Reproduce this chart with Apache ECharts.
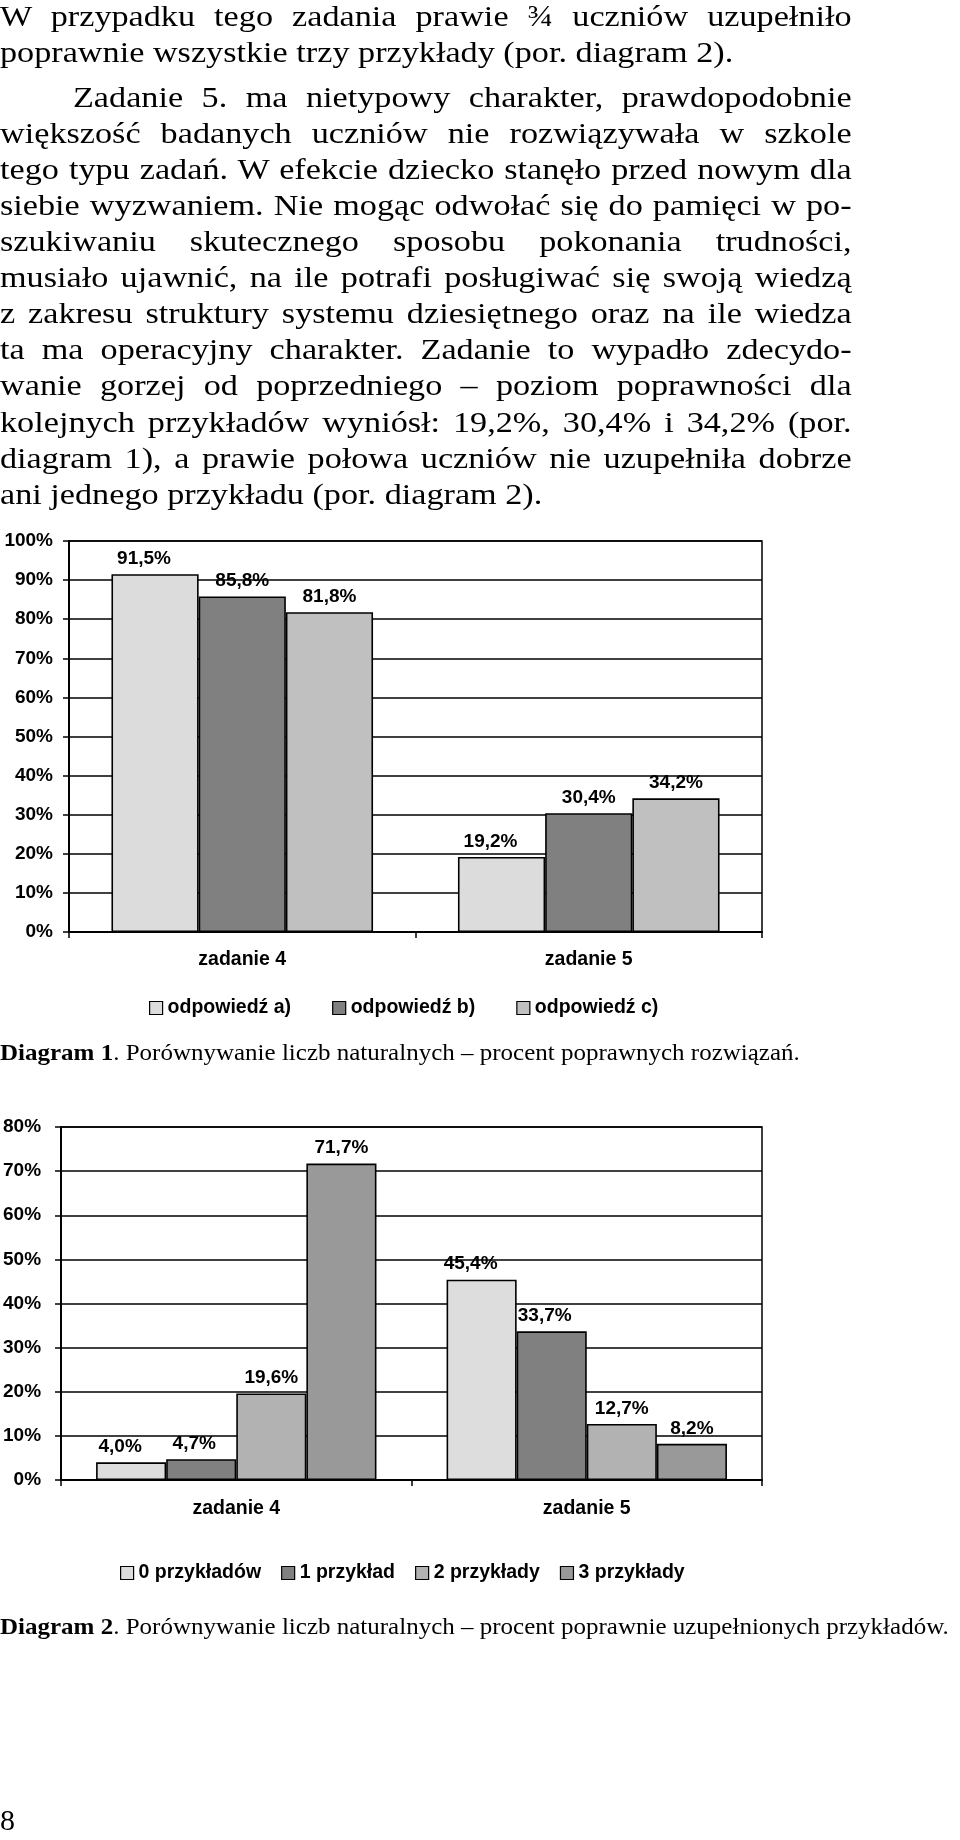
<!DOCTYPE html>
<html><head><meta charset="utf-8">
<script src="https://cdn.jsdelivr.net/npm/echarts@6/dist/echarts.min.js"></script>
<style>
html,body{margin:0;padding:0;background:#fff;}
#page{position:relative;width:960px;height:1840px;overflow:hidden;background:#fff;}
#chart{position:absolute;left:0;top:0;width:960px;height:1840px;}
.txt{position:absolute;left:0;font-family:"Liberation Serif","Times New Roman",serif;color:#000;transform-origin:0 0;}
.body{top:-2px;width:747px;font-size:30px;line-height:36.1px;transform:scaleX(1.14);}
.ln{display:block;width:747px;white-space:nowrap;text-align:justify;text-align-last:justify;}
.ln.last{text-align-last:left;}
.ind{text-indent:64px;}
.gap{height:8.5px;}
.cap{font-size:23px;line-height:30px;white-space:nowrap;transform:scaleX(1.087);}
.num{font-size:30px;line-height:36px;}
</style>
</head><body>
<div id="page">
<div id="chart"></div>
<div class="txt body">
<div class="ln">W przypadku tego zadania prawie ¾ uczniów uzupełniło</div>
<div class="ln last">poprawnie wszystkie trzy przykłady (por. diagram 2).</div>
<div class="gap"></div>
<div class="ln ind">Zadanie 5. ma nietypowy charakter, prawdopodobnie</div>
<div class="ln">większość badanych uczniów nie rozwiązywała w szkole</div>
<div class="ln">tego typu zadań. W efekcie dziecko stanęło przed nowym dla</div>
<div class="ln">siebie wyzwaniem. Nie mogąc odwołać się do pamięci w po-</div>
<div class="ln">szukiwaniu skutecznego sposobu pokonania trudności,</div>
<div class="ln">musiało ujawnić, na ile potrafi posługiwać się swoją wiedzą</div>
<div class="ln">z zakresu struktury systemu dziesiętnego oraz na ile wiedza</div>
<div class="ln">ta ma operacyjny charakter. Zadanie to wypadło zdecydo-</div>
<div class="ln">wanie gorzej od poprzedniego – poziom poprawności dla</div>
<div class="ln">kolejnych przykładów wyniósł: 19,2%, 30,4% i 34,2% (por.</div>
<div class="ln">diagram 1), a prawie połowa uczniów nie uzupełniła dobrze</div>
<div class="ln last">ani jednego przykładu (por. diagram 2).</div>
</div>
<div class="txt cap" style="top:1038px;"><b>Diagram 1</b>. Porównywanie liczb naturalnych – procent poprawnych rozwiązań.</div>
<div class="txt cap" style="top:1612px;"><b>Diagram 2</b>. Porównywanie liczb naturalnych – procent poprawnie uzupełnionych przykładów.</div>
<div class="txt num" style="top:1802px;">8</div>
</div>
<script>
// ---- data ----
const categories = ['zadanie 4', 'zadanie 5'];

const d1Names = ['odpowiedź a)', 'odpowiedź b)', 'odpowiedź c)'];
const d1OdpA = [91.5, 19.2];
const d1OdpB = [85.8, 30.4];
const d1OdpC = [81.8, 34.2];

const d2Names = ['0 przykładów', '1 przykład', '2 przykłady', '3 przykłady'];
const d2Zero = [4.0, 45.4];
const d2One = [4.7, 33.7];
const d2Two = [19.6, 12.7];
const d2Three = [71.7, 8.2];

const d1Max = 100;
const d2Max = 80;
const tickStep = 10;

// ---- styles ----
const FONT = '"Liberation Sans", Arial, sans-serif';
const d1Colors = ['#dcdcdc', '#808080', '#c0c0c0'];
const d2Colors = ['#dddddd', '#808080', '#b2b2b2', '#999999'];

const pct = v => v.toFixed(1).replace('.', ',') + '%';

function bar(name, data, color, idx, gap, dx) {
  return {
    type: 'bar', name: name, data: data,
    xAxisIndex: idx, yAxisIndex: idx,
    barGap: '0%', barCategoryGap: gap,
    itemStyle: {color: color, borderColor: '#000', borderWidth: 1.6},
    label: {
      show: true, position: 'top', distance: 6, offset: [dx, 0],
      formatter: p => pct(p.value),
      color: '#000', fontWeight: 'bold', fontSize: 19, fontFamily: FONT
    },
    emphasis: {disabled: true},
    animation: false
  };
}

function xAxis(idx, margin) {
  return {
    type: 'category', gridIndex: idx, data: categories,
    axisLine: {show: true, lineStyle: {color: '#000', width: 2}},
    axisTick: {show: true, length: 6, interval: 0, lineStyle: {color: '#000', width: 1.5}},
    axisLabel: {color: '#000', fontWeight: 'bold', fontSize: 19.5, fontFamily: FONT, margin: margin},
    splitLine: {show: false}
  };
}
function yAxis(idx, max, margin) {
  return {
    type: 'value', gridIndex: idx, min: 0, max: max, interval: tickStep,
    axisLine: {show: true, lineStyle: {color: '#000', width: 2}},
    axisTick: {show: true, length: 6, lineStyle: {color: '#000', width: 1.5}},
    axisLabel: {color: '#000', fontWeight: 'bold', fontSize: 19, fontFamily: FONT, margin: margin,
      formatter: v => v + '%'},
    splitLine: {show: true, lineStyle: {color: '#000', width: 1.5}}
  };
}

const chart = echarts.init(document.getElementById('chart'), null, {renderer: 'canvas'});
chart.setOption({
  animation: false,
  backgroundColor: 'transparent',
  textStyle: {fontFamily: FONT},
  grid: [
    {left: 69, top: 541, width: 693, height: 391, show: true, borderColor: '#000', borderWidth: 1.5, backgroundColor: 'transparent'},
    {left: 58, top: 1127, width: 704, height: 353, show: true, borderColor: '#000', borderWidth: 1.5, backgroundColor: 'transparent'}
  ],
  xAxis: [xAxis(0, 18), xAxis(1, 19)],
  yAxis: [yAxis(0, d1Max, 16), yAxis(1, d2Max, 20)],
  legend: [
    {data: d1Names, left: 144, top: 993, itemWidth: 13, itemHeight: 13, itemGap: 41, icon: 'rect',
     textStyle: {color: '#000', fontWeight: 'bold', fontSize: 19.5, fontFamily: FONT},
     itemStyle: {borderColor: '#000', borderWidth: 1.2}, selectedMode: false},
    {data: d2Names, left: 115, top: 1558, itemWidth: 13, itemHeight: 13, itemGap: 20, icon: 'rect',
     textStyle: {color: '#000', fontWeight: 'bold', fontSize: 19.5, fontFamily: FONT},
     itemStyle: {borderColor: '#000', borderWidth: 1.2}, selectedMode: false}
  ],
  series: [
    bar(d1Names[0], d1OdpA, d1Colors[0], 0, '24.5%', -11),
    bar(d1Names[1], d1OdpB, d1Colors[1], 0, '24.5%', 0),
    bar(d1Names[2], d1OdpC, d1Colors[2], 0, '24.5%', 0),
    bar(d2Names[0], d2Zero, d2Colors[0], 1, '20%', -11),
    bar(d2Names[1], d2One, d2Colors[1], 1, '20%', -7),
    bar(d2Names[2], d2Two, d2Colors[2], 1, '20%', 0),
    bar(d2Names[3], d2Three, d2Colors[3], 1, '20%', 0)
  ]
});
</script>
</body></html>
